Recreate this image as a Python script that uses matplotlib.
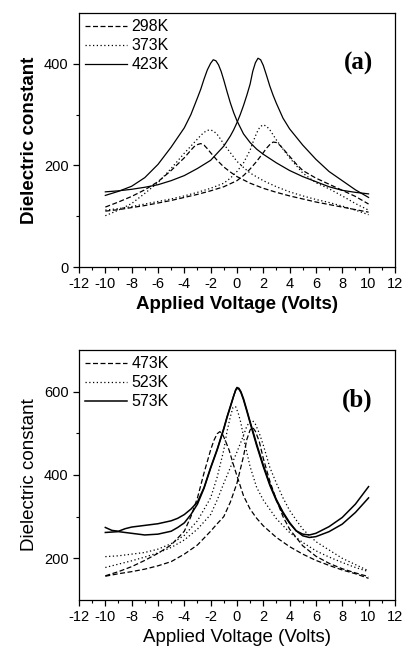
import numpy as np
import matplotlib.pyplot as plt

plt.rcParams['font.family'] = ['Liberation Sans', 'DejaVu Sans']
plt.rcParams['axes.unicode_minus'] = False

# ---- panel (a): 298K, 373K, 423K (two sweeps each) ----
v_298a = [-10, -9, -8, -7, -6, -5, -4, -3.5, -3.25, -3, -2.75, -2.5, -2.25, -2, -1.5, -1, -0.5, 0, 1, 2, 3, 4, 5, 6, 7, 8, 9, 10]
e_298a = [118, 128, 139, 152, 168, 190, 215, 230, 237, 241, 243, 240, 233, 225, 210, 197, 187, 178, 165, 155, 147, 140, 134, 128, 123, 118, 113, 108]
v_298b = [-10, -9, -8, -7, -6, -5, -4, -3, -2, -1, 0, 0.5, 1, 1.5, 2, 2.25, 2.5, 2.75, 3, 3.25, 3.5, 4, 4.5, 5, 6, 7, 8, 9, 10]
e_298b = [110, 113, 117, 121, 126, 131, 137, 143, 150, 158, 170, 180, 193, 208, 225, 234, 241, 246, 245, 240, 233, 218, 203, 190, 175, 163, 151, 139, 124]

v_373a = [-10, -9, -8, -7, -6, -5, -4, -3, -2.75, -2.5, -2.25, -2, -1.75, -1.5, -1.25, -1, -0.5, 0, 0.5, 1, 2, 3, 4, 5, 6, 7, 8, 9, 10]
e_373a = [101, 112, 125, 145, 166, 194, 224, 252, 259, 265, 269, 270, 267, 261, 252, 242, 225, 208, 196, 185, 170, 158, 148, 140, 133, 127, 120, 112, 103]
v_373b = [-10, -9, -8, -7, -6, -5, -4, -3, -2, -1, -0.5, 0, 0.5, 1, 1.25, 1.5, 1.75, 2, 2.25, 2.5, 2.75, 3, 3.5, 4, 5, 6, 7, 8, 9, 10]
e_373b = [112, 115, 119, 124, 129, 134, 140, 147, 155, 165, 175, 188, 205, 230, 248, 264, 276, 280, 277, 270, 260, 250, 232, 215, 185, 166, 154, 140, 125, 112]

v_423a = [-10, -9, -8, -7, -6, -5, -4, -3.5, -3, -2.75, -2.5, -2.25, -2, -1.8, -1.6, -1.4, -1.2, -1, -0.75, -0.5, -0.25, 0, 0.5, 1, 1.5, 2, 3, 4, 5, 6, 7, 8, 9, 10]
e_423a = [141, 149, 159, 176, 202, 236, 274, 300, 333, 350, 370, 388, 401, 408, 406, 398, 385, 368, 345, 323, 304, 288, 262, 245, 232, 222, 205, 190, 178, 168, 158, 151, 147, 144]
v_423b = [-10, -9, -8, -7, -6, -5, -4, -3, -2, -1, -0.5, -0.25, 0, 0.25, 0.5, 0.75, 1, 1.2, 1.4, 1.6, 1.8, 2, 2.25, 2.5, 2.75, 3, 3.5, 4, 4.5, 5, 6, 7, 8, 9, 10]
e_423b = [148, 150, 153, 157, 162, 170, 180, 194, 210, 238, 258, 270, 284, 300, 318, 338, 360, 385, 402, 411, 408, 397, 377, 356, 338, 322, 293, 272, 256, 240, 212, 188, 170, 152, 137]

# ---- panel (b): 473K, 523K, 573K ----
v_473a = [-10, -9, -8, -7, -6, -5, -4, -3.5, -3, -2.5, -2, -1.75, -1.5, -1.3, -1.1, -0.9, -0.6, -0.3, 0, 0.5, 1, 1.5, 2, 3, 4, 5, 6, 7, 8, 9, 10]
e_473a = [158, 168, 180, 195, 212, 232, 265, 300, 345, 405, 460, 483, 499, 504, 498, 484, 460, 428, 398, 350, 318, 296, 278, 250, 228, 210, 195, 183, 172, 163, 152]
v_473b = [-10, -9, -8, -7, -6, -5, -4, -3, -2, -1.5, -1, -0.5, 0, 0.5, 0.75, 1, 1.2, 1.4, 1.7, 2, 2.5, 3, 3.5, 4, 5, 6, 7, 8, 9, 10]
e_473b = [157, 163, 168, 174, 182, 192, 210, 232, 265, 283, 300, 335, 380, 445, 485, 508, 514, 505, 480, 440, 385, 340, 300, 270, 230, 205, 188, 175, 165, 156]

v_523a = [-10, -9, -8, -7, -6, -5, -4, -3, -2, -1.5, -1, -0.75, -0.5, -0.3, -0.1, 0.1, 0.3, 0.6, 1, 1.5, 2, 3, 4, 5, 6, 7, 8, 9, 10]
e_523a = [204, 206, 210, 214, 222, 235, 255, 290, 345, 395, 460, 505, 540, 562, 564, 548, 525, 475, 420, 370, 340, 295, 262, 238, 218, 203, 190, 178, 168]
v_523b = [-10, -9, -8, -7, -6, -5, -4, -3, -2, -1.5, -1, -0.5, 0, 0.5, 0.75, 1, 1.2, 1.4, 1.7, 2, 2.5, 3, 3.5, 4, 4.5, 5, 6, 7, 8, 9, 10]
e_523b = [178, 186, 194, 203, 213, 226, 244, 270, 305, 340, 380, 418, 455, 495, 517, 529, 530, 522, 500, 472, 418, 380, 345, 315, 292, 270, 240, 220, 200, 185, 170]

v_573a = [-10, -9.5, -9, -8.5, -8, -7, -6, -5, -4.5, -4, -3.5, -3, -2.5, -2, -1.5, -1, -0.75, -0.5, -0.25, -0.1, 0, 0.15, 0.3, 0.5, 0.75, 1, 1.5, 2, 2.5, 3, 3.5, 4, 4.5, 5, 5.5, 6, 7, 8, 9, 10]
e_573a = [274, 267, 265, 271, 275, 279, 283, 290, 296, 305, 318, 335, 370, 418, 462, 512, 540, 565, 590, 603, 608, 606, 598, 580, 553, 525, 470, 420, 375, 338, 308, 284, 266, 258, 256, 260, 276, 298, 330, 372]
v_573b = [-10, -9, -8, -7, -6, -5, -4.5, -4, -3.5, -3, -2.5, -2, -1.5, -1, -0.75, -0.5, -0.25, -0.1, 0, 0.15, 0.3, 0.5, 0.75, 1, 1.5, 2, 2.5, 3, 3.5, 4, 4.5, 5, 5.5, 6, 7, 8, 9, 10]
e_573b = [262, 264, 260, 256, 258, 265, 274, 285, 305, 330, 368, 416, 460, 510, 538, 563, 589, 604, 610, 608, 600, 583, 556, 528, 474, 424, 378, 341, 311, 286, 266, 254, 250, 252, 264, 282, 310, 345]

xticks = np.arange(-12, 13, 2)

dash = (0, (4, 2))
dot = (0, (1, 2))

fig = plt.figure(figsize=(4.06, 6.54), dpi=100)
ax1 = fig.add_axes([0.1946, 0.5917, 0.778, 0.3884])
ax2 = fig.add_axes([0.1946, 0.0826, 0.778, 0.3823])

lw = 0.9
ax1.plot(v_298a, e_298a, color='black', lw=lw, ls=dash, label='298K')
ax1.plot(v_298b, e_298b, color='black', lw=lw, ls=dash)
ax1.plot(v_373a, e_373a, color='black', lw=lw, ls=dot, label='373K')
ax1.plot(v_373b, e_373b, color='black', lw=lw, ls=dot)
ax1.plot(v_423a, e_423a, color='black', lw=lw, ls='-', label='423K')
ax1.plot(v_423b, e_423b, color='black', lw=lw, ls='-')

ax2.plot(v_473a, e_473a, color='black', lw=lw, ls=dash, label='473K')
ax2.plot(v_473b, e_473b, color='black', lw=lw, ls=dash)
ax2.plot(v_523a, e_523a, color='black', lw=lw, ls=dot, label='523K')
ax2.plot(v_523b, e_523b, color='black', lw=lw, ls=dot)
ax2.plot(v_573a, e_573a, color='black', lw=1.1, ls='-', label='573K')
ax2.plot(v_573b, e_573b, color='black', lw=1.1, ls='-')

ax1.set_ylim(0, 500)
ax1.set_yticks([0, 200, 400])
ax1.set_yticks([100, 300], minor=True)
ax2.set_ylim(100, 700)
ax2.set_yticks([200, 400, 600])
ax2.set_yticks([300, 500], minor=True)

for ax, tag, weight in [(ax1, '(a)', 'bold'), (ax2, '(b)', 'normal')]:
    ax.set_xlim(-12, 12)
    ax.set_xticks(xticks)
    ax.set_xticks(np.arange(-11, 12, 2), minor=True)
    ax.tick_params(which='major', direction='out', length=4, width=0.9, labelsize=10.5,
                   top=False, right=False)
    ax.tick_params(which='minor', direction='out', length=2.5, width=0.8,
                   top=False, right=False)
    for sp in ax.spines.values():
        sp.set_linewidth(0.9)
    ax.set_xlabel('Applied Voltage (Volts)', fontsize=13.5, fontweight=weight, labelpad=3)
    ax.set_ylabel('Dielectric constant', fontsize=13.5, fontweight=weight, labelpad=4)
    ax.text(0.93, 0.80, tag, transform=ax.transAxes, ha='right', va='center',
            fontsize=18, fontweight='bold', family='Liberation Serif')
    leg = ax.legend(loc='upper left', frameon=False, fontsize=11.5, handlelength=2.6,
                    handletextpad=0.3, labelspacing=0.25, borderaxespad=0.2,
                    borderpad=0.2)

fig.savefig('out.png', dpi=100)
